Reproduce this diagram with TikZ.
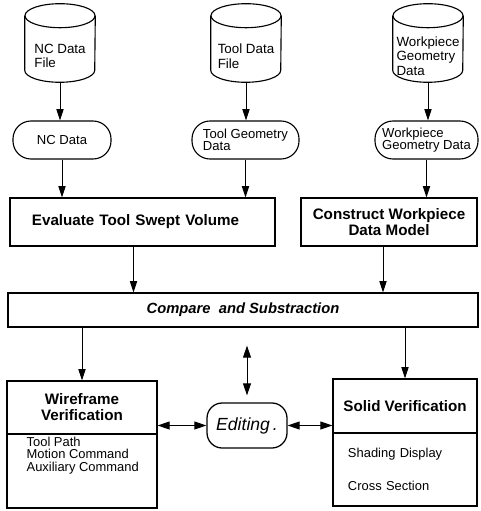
\documentclass[tikz,border=0pt]{standalone}
\usepackage{fontspec}
\setmainfont{Liberation Sans}
\usetikzlibrary{arrows.meta}

\begin{document}
\begin{tikzpicture}[x=0.025cm, y=-0.025cm,
    every node/.style={font=\fontsize{9.4}{10}\selectfont, inner sep=0pt, align=left},
    filecyl/.style={minimum width=1.75cm, minimum height=1.3cm, font=\fontsize{9.5}{10.3}\selectfont},
    datapill/.style={draw, line width=0.8pt, rounded corners=0.45cm, minimum height=0.95cm,
        font=\fontsize{9.3}{8.8}\selectfont},
    box/.style={draw, line width=0.9pt},
    titletext/.style={font=\bfseries\fontsize{10.8}{11.4}\selectfont, align=center},
    arr/.style={-{Triangle[length=2.8mm,width=1.8mm]}, line width=0.7pt},
    dblarr/.style={{Triangle[length=3mm,width=2mm]}-{Triangle[length=3mm,width=2mm]}, line width=0.7pt}]
    \useasboundingbox (0,0) rectangle (480,511);

    % Input files
    \node[filecyl] (ncfile) at (60,56) {NC Data\\File};
    \node[filecyl] (toolfile) at (246,56) {Tool Data\\File};
    \node[filecyl] (wpfile) at (428,56) {Workpiece\\Geometry\\Data};
    \foreach \f in {ncfile,toolfile,wpfile} {
        \draw[line width=0.8pt] ([yshift=0.35cm]\f.north) ellipse [x radius=0.875cm, y radius=0.3cm];
        \draw[line width=0.8pt] ([yshift=0.35cm]\f.north west) -- ([yshift=0.3cm]\f.south west)
            arc [start angle=180, end angle=360, x radius=0.875cm, y radius=0.3cm]
            -- ([yshift=0.35cm]\f.north east);
    }

    % Data
    \node[datapill, minimum width=2.45cm] (ncdata) at (62,140) {NC Data};
    \node[datapill, minimum width=2.675cm] (tooldata) at (245.5,140) {Tool Geometry\\Data};
    \node[datapill, minimum width=2.575cm] (wpdata) at (426.5,140) {Workpiece\\Geometry Data};

    % Volume and model
    \node[box, titletext, align=left, inner xsep=0.55cm, text width=5.525cm, minimum height=1.2cm] (evaluate) at (142.5,222) {Evaluate Tool Swept Volume};
    \node[box, titletext, minimum width=4.4cm, minimum height=1.2cm] (construct) at (389,222) {Construct Workpiece\\Data Model};

    % Comparison
    \node[box, minimum width=11.75cm, minimum height=0.85cm,
        font=\bfseries\itshape\fontsize{10.5}{12}\selectfont] (compare) at (243,310) {Compare\ \ and Substraction};

    % Wireframe verification
    \node[box, titletext, minimum width=3.75cm, minimum height=1.325cm] (wiretitle) at (82,407.5) {Wireframe\\Verification};
    \node[box, minimum width=3.75cm, minimum height=1.85cm] (wirelist) at (82,471) {};
    \node[anchor=north west, font=\fontsize{9.2}{8.8}\selectfont] (wiretext)
        at ([xshift=0.5cm,yshift=-0.09cm]wirelist.north west) {Tool Path\\Motion Command\\Auxiliary Command};

    % Solid verification
    \node[box, titletext, minimum width=3.6cm, minimum height=1.35cm] (solidtitle) at (405,406) {Solid Verification};
    \node[box, minimum width=3.6cm, minimum height=1.825cm, inner xsep=0.375cm, text width=2.85cm,
        font=\fontsize{9.2}{11}\selectfont] (solidlist) at (405,469.5) {Shading Display\\[12pt]Cross Section};

    % Editing
    \node[box, rounded corners=0.38cm, minimum width=2cm, minimum height=1.125cm,
        font=\itshape\fontsize{12.5}{14}\selectfont] (editing) at (247,425.5) {Editing\,.};

    % Arrows
    \draw[arr] (ncfile.south) -- (ncfile.south |- ncdata.north);
    \draw[arr] (toolfile.south) -- (toolfile.south |- tooldata.north);
    \draw[arr] (wpfile.south) -- (wpfile.south |- wpdata.north);
    \draw[arr] (ncdata.south) -- (ncdata.south |- evaluate.north);
    \draw[arr] (tooldata.south) -- (tooldata.south |- evaluate.north);
    \draw[arr] (wpdata.south) -- (wpdata.south |- construct.north);
    \draw[arr] ([xshift=-0.225cm]evaluate.south) -- ([xshift=-0.225cm]evaluate.south |- compare.north);
    \draw[arr] ([xshift=-0.15cm]construct.south) -- ([xshift=-0.15cm]construct.south |- compare.north);
    \draw[arr] (wiretitle.north |- compare.south) -- (wiretitle.north);
    \draw[arr] (solidtitle.north |- compare.south) -- (solidtitle.north);
    \draw[dblarr] ([yshift=-0.45cm]compare.south -| editing.north) -- ([yshift=0.175cm]editing.north);
    \draw[dblarr] (editing.west -| wiretitle.east) -- (editing.west);
    \draw[dblarr] (editing.east) -- (editing.east -| solidtitle.west);
\end{tikzpicture}
\end{document}
